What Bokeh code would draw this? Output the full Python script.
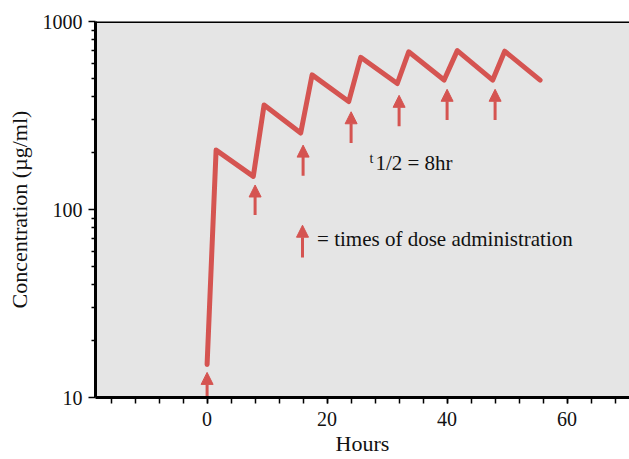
from bokeh.plotting import figure
from bokeh.models import (Arrow, NormalHead, ColumnDataSource, FixedTicker,
                          Label, Range1d, Span)
from bokeh.embed import file_html
from bokeh.resources import INLINE

# ---- data ----
hours = [0, 1.5, 7.7, 9.5, 15.6, 17.5, 23.6, 25.6, 31.7, 33.6, 39.5, 41.7, 47.6, 49.6, 55.5]
conc = [15, 207, 150, 360, 255, 520, 375, 645, 468, 690, 488, 700, 488, 695, 488]

dose_hours = [0, 8, 16, 24, 32, 40, 48]
arrow_tip = [13.6, 135, 220, 331, 405, 436, 436]
arrow_base = [10.2, 93.5, 151, 226, 277, 299, 299]

x_major = [0, 20, 40, 60]
x_minor = list(range(-16, 72, 4))
y_major = [10, 100, 1000]
y_minor = [m * d for d in (10, 100) for m in range(2, 10)]

RED = "#d55451"
FONT = "Liberation Serif"
TXT = "#111111"

p = figure(width=629, height=459,
           x_range=Range1d(-18.6, 70.4), y_range=Range1d(10, 1000),
           y_axis_type="log", output_backend="svg", toolbar_location=None,
           min_border_left=95, min_border_right=0, min_border_top=21,
           min_border_bottom=62)

p.background_fill_color = "#e5e5e5"
p.border_fill_color = "white"
p.outline_line_color = None
p.xgrid.visible = False
p.ygrid.visible = False

p.xaxis.ticker = FixedTicker(ticks=x_major, minor_ticks=x_minor)
p.yaxis.ticker = FixedTicker(ticks=y_major, minor_ticks=y_minor)
p.yaxis.major_label_overrides = {10: "10", 100: "100", 1000: "1000"}

for ax in (p.xaxis[0], p.yaxis[0]):
    ax.axis_line_width = 3
    ax.axis_line_color = "black"
    ax.major_tick_line_width = 1.5
    ax.minor_tick_line_width = 1.5
    ax.major_tick_line_color = "black"
    ax.minor_tick_line_color = "black"
    ax.major_tick_in = 0
    ax.minor_tick_in = 0
    ax.major_label_text_font = FONT
    ax.major_label_text_font_size = "20px"
    ax.major_label_text_color = TXT
    ax.axis_label_text_font = FONT
    ax.axis_label_text_font_size = "22px"
    ax.axis_label_text_font_style = "normal"
    ax.axis_label_text_color = TXT

p.xaxis.major_tick_out = 6
p.xaxis.minor_tick_out = 6
p.yaxis.major_tick_out = 7
p.yaxis.minor_tick_out = 4
p.xaxis.major_label_standoff = 8
p.yaxis.major_label_standoff = 6
p.xaxis.axis_label = "Hours"
p.yaxis.axis_label = "Concentration (µg/ml)"
p.xaxis.axis_label_standoff = 2
p.yaxis.axis_label_standoff = 8

# top frame border
p.add_layout(Span(location=1000, dimension="width", line_color="black", line_width=3))

p.line(hours, conc, line_width=5, color=RED, line_join="round", line_cap="round")

src = ColumnDataSource(dict(x=dose_hours, y0=arrow_base, y1=arrow_tip))
p.add_layout(Arrow(x_start="x", y_start="y0", x_end="x", y_end="y1", source=src,
                   line_color=RED, line_width=3,
                   end=NormalHead(size=12, fill_color=RED, line_color=RED, line_width=1)))

# legend arrow
p.add_layout(Arrow(x_start=15.9, y_start=55.6, x_end=15.9, y_end=82.5,
                   line_color=RED, line_width=3,
                   end=NormalHead(size=12, fill_color=RED, line_color=RED, line_width=1)))
p.add_layout(Label(x=18.33, y=69.5, text="= times of dose administration",
                   text_font=FONT, text_font_size="21px", text_color=TXT,
                   text_baseline="alphabetic"))
p.add_layout(Label(x=27.05, y=187, text="t", text_font=FONT,
                   text_font_size="14px", text_color=TXT, text_baseline="alphabetic"))
p.add_layout(Label(x=28.05, y=177, text="1/2 = 8hr", text_font=FONT,
                   text_font_size="21px", text_color=TXT, text_baseline="alphabetic"))

open("out.html", "w").write(file_html(p, INLINE))
